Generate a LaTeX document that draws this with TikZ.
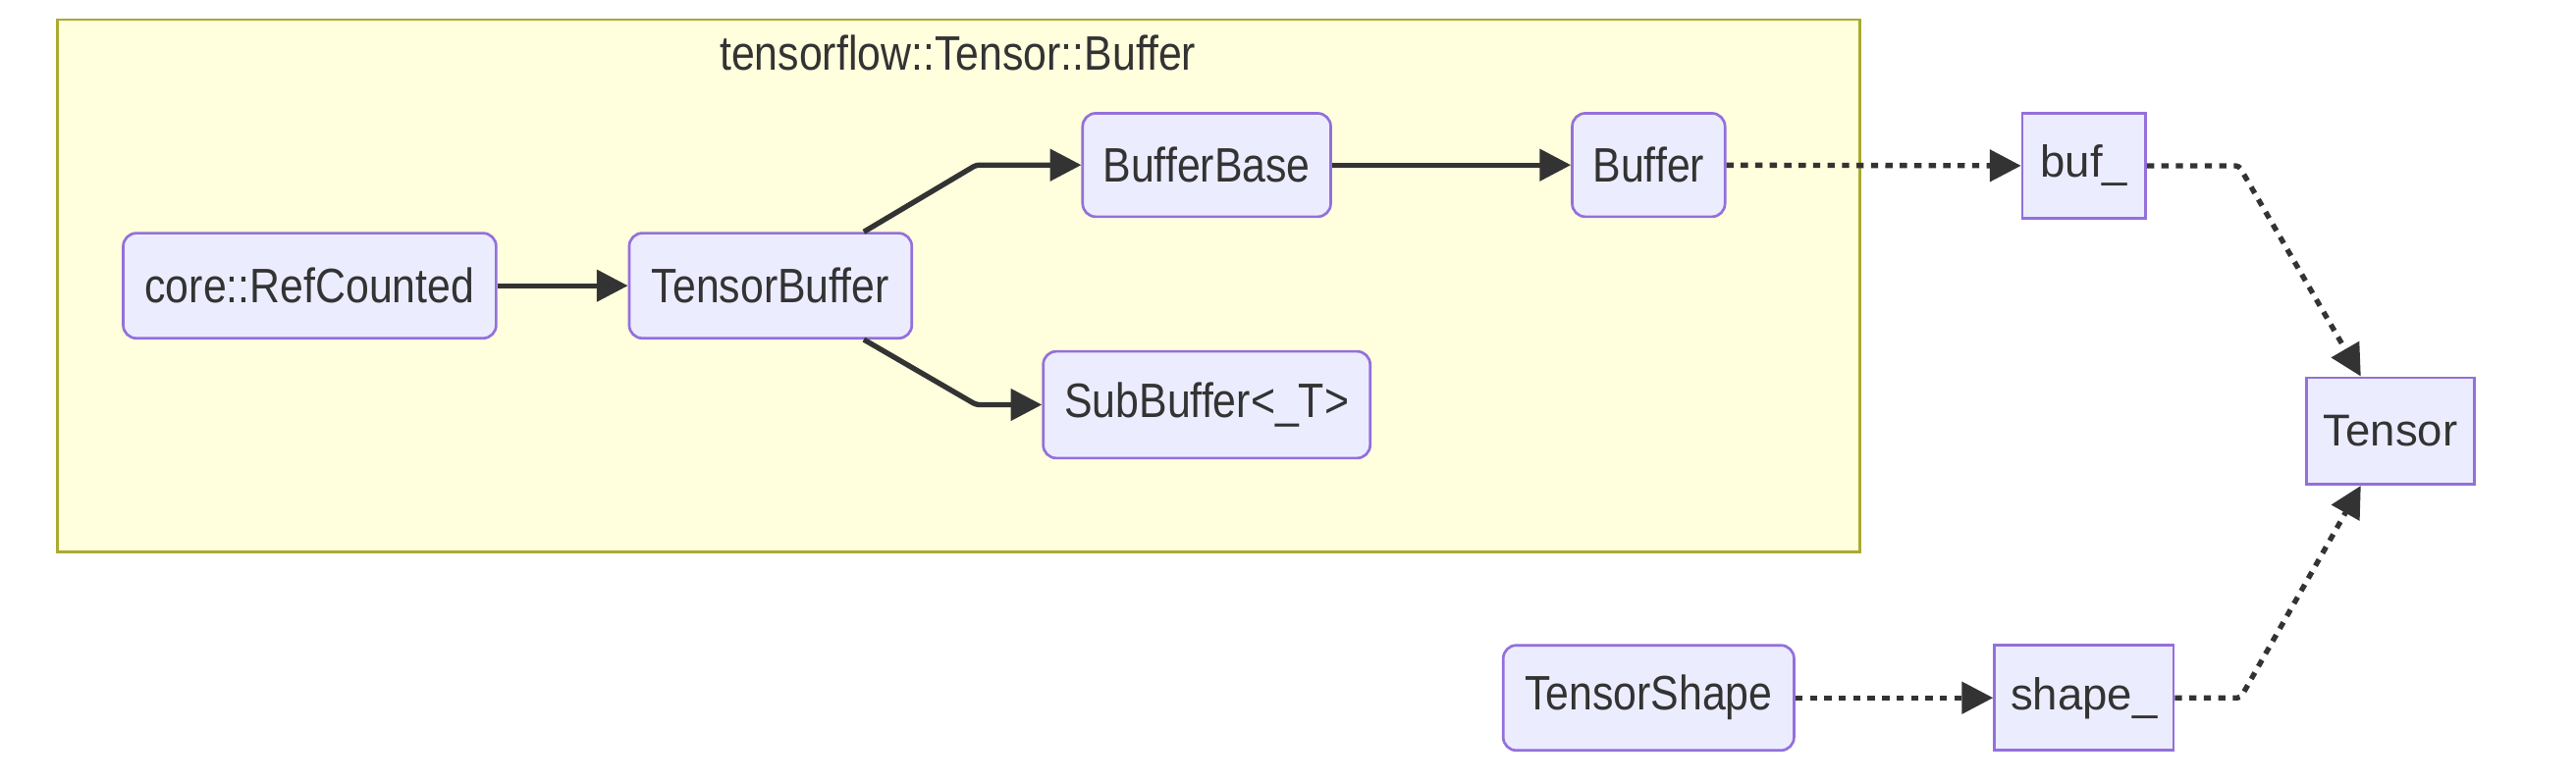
\documentclass[tikz,border=0pt]{standalone}
\usepackage{fontspec}
\setmainfont{Liberation Sans}
\usetikzlibrary{arrows.meta}
\definecolor{nfill}{HTML}{ECECFF}
\definecolor{nline}{HTML}{9370DB}
\definecolor{ink}{HTML}{333333}
\definecolor{cfill}{HTML}{FFFFDE}
\definecolor{cline}{HTML}{AAAA33}
\newcommand\stretchtxt[1]{\scalebox{1}[1.15]{#1}}
\begin{document}
\begin{tikzpicture}[x=0.5pt,y=-0.5pt,
  box/.style={draw=nline, fill=nfill, line width=0.8pt, text=ink,
    font=\fontsize{13.6}{15}\selectfont, inner sep=0pt, anchor=center},
  rbox/.style={box, rounded corners=4pt, font=\fontsize{12.8}{14}\selectfont},
  edge/.style={draw=ink, line width=1.6pt, -{Triangle[length=9.5pt,width=9.5pt]}},
  dotedge/.style={edge, dash pattern=on 2.2pt off 2.2pt},
  cluster/.style={draw=cline, fill=cfill, line width=0.8pt},
]
\useasboundingbox (0,0) rectangle (1568,476);
\fill[white] (0,0) rectangle (1568,476);

% cluster
\draw[cluster] (35,12) rectangle (1132,336);
\node[text=ink, font=\fontsize{12.8}{14}\selectfont, inner sep=0pt] (ctitle) at (583,32) {\stretchtxt{tensorflow::Tensor::Buffer}};

% nodes
\node[rbox, minimum width=113.5pt, minimum height=32pt] (core) at (188.5,174) {\stretchtxt{core::RefCounted}};
\node[rbox, minimum width=86pt, minimum height=32pt] (tb) at (469,174) {\stretchtxt{TensorBuffer}};
\node[rbox, minimum width=75.5pt, minimum height=31.5pt] (bb) at (734.5,100.5) {\stretchtxt{BufferBase}};
\node[rbox, minimum width=46.5pt, minimum height=31.5pt] (buffer) at (1003.5,100.5) {\stretchtxt{Buffer}};
\node[rbox, minimum width=99.5pt, minimum height=32.5pt] (sub) at (734.5,246.5) {\stretchtxt{SubBuffer<\_T>}};
\node[box, minimum width=37.5pt, minimum height=32pt] (buf) at (1268.5,101) {buf\_};
\node[box, minimum width=51pt, minimum height=32.5pt] (tensor) at (1455,262.5) {Tensor};
\node[rbox, minimum width=88.5pt, minimum height=32pt] (tshape) at (1003.5,425) {\stretchtxt{TensorShape}};
\node[box, minimum width=54.5pt, minimum height=32pt] (shape) at (1268.5,425) {shape\_};

% connectors
\draw[edge] (core) -- (tb);
\draw[edge, rounded corners=1pt] ([xshift=-15pt]tb.north east) -- ([xshift=-32pt]bb.west) -- (bb.west);
\draw[edge, rounded corners=1pt] ([xshift=-15pt]tb.south east) -- ([xshift=-20pt]sub.west) -- (sub.west);
\draw[edge] (bb) -- (buffer);
\draw[dotedge] (buffer) -- (buf);
\draw[dotedge, rounded corners=1pt] (buf.east) -- ([xshift=28pt]buf.east) -- ([xshift=-9pt]tensor.north);
\draw[dotedge] (tshape) -- (shape);
\draw[dotedge, rounded corners=1pt] (shape.east) -- ([xshift=20pt]shape.east) -- ([xshift=-9pt]tensor.south);
\end{tikzpicture}
\end{document}
